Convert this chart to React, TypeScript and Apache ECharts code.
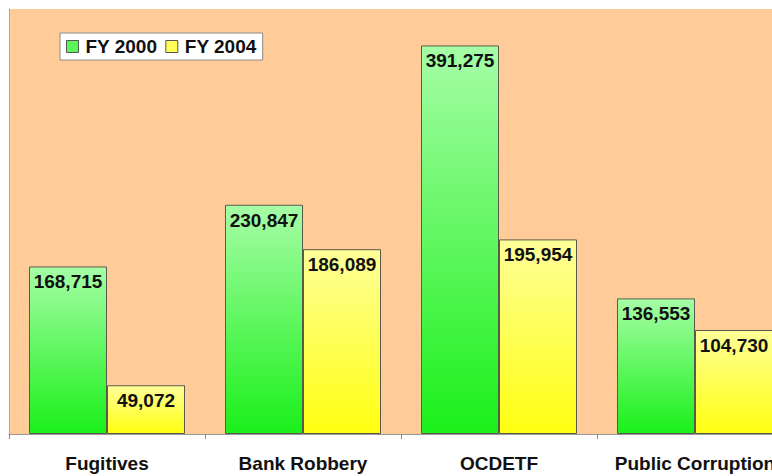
import React, { useEffect, useRef } from "react";
import * as echarts from "echarts";

const categories = ["Fugitives", "Bank Robbery", "OCDETF", "Public Corruption"];
const fy2000 = [168715, 230847, 391275, 136553];
const fy2004 = [49072, 186089, 195954, 104730];
const seriesNames = ["FY 2000", "FY 2004"];

const FONT = "'Liberation Sans', Arial, sans-serif";

export default function App() {
  const ref = useRef<HTMLDivElement>(null);
  useEffect(() => {
    if (!ref.current) return;
    const chart = echarts.init(ref.current, null, { renderer: "svg" });
    const greenGrad = new echarts.graphic.LinearGradient(0, 0, 0, 1, [
      { offset: 0, color: "#A6FDA6" },
      { offset: 1, color: "#1AF01A" },
    ]);
    const yellowGrad = new echarts.graphic.LinearGradient(0, 0, 0, 1, [
      { offset: 0, color: "#FFFF99" },
      { offset: 1, color: "#FFFF10" },
    ]);
    const label = {
      show: true,
      position: "insideTop" as const,
      distance: 6,
      color: "#111",
      fontWeight: "bold" as const,
      fontSize: 19,
      fontFamily: FONT,
      formatter: (p: any) => Number(p.value).toLocaleString("en-US"),
    };
    chart.setOption({
      animation: false,
      backgroundColor: "#ffffff",
      legend: {
        left: 60,
        top: 33,
        padding: [4, 6, 4, 6],
        itemWidth: 12,
        itemHeight: 12,
        itemGap: 8,
        backgroundColor: "#ffffff",
        borderColor: "#8a8a8a",
        borderWidth: 1,
        icon: "rect",
        textStyle: { fontFamily: FONT, fontWeight: "bold", fontSize: 19, color: "#111", padding: [0, 0, 0, 2] },
        data: [
          { name: seriesNames[0], itemStyle: { color: "#5CF55C", borderColor: "#555", borderWidth: 1 } },
          { name: seriesNames[1], itemStyle: { color: "#FFFF55", borderColor: "#555", borderWidth: 1 } },
        ],
      },
      grid: {
        left: 9,
        right: 0,
        top: 9,
        bottom: 42,
        show: true,
        backgroundColor: "#FFCB99",
        borderWidth: 0,
        containLabel: false,
      },
      xAxis: {
        type: "category",
        data: categories,
        axisLine: { show: true, lineStyle: { color: "#999", width: 1 } },
        axisTick: { show: true, length: 5, lineStyle: { color: "#888" }, alignWithLabel: false },
        axisLabel: {
          margin: 20,
          fontFamily: FONT,
          fontWeight: "bold",
          fontSize: 19,
          color: "#111",
          interval: 0,
        },
      },
      yAxis: {
        type: "value",
        min: 0,
        max: 428000,
        axisLine: { show: true, lineStyle: { color: "#a9a9a9", width: 1 } },
        axisTick: { show: false },
        axisLabel: { show: false },
        splitLine: { show: false },
      },
      series: [
        {
          name: seriesNames[0],
          type: "bar",
          data: fy2000,
          barWidth: 78,
          barGap: "0%",
          itemStyle: { color: greenGrad, borderColor: "#5a5a4a", borderWidth: 1 },
          label,
        },
        {
          name: seriesNames[1],
          type: "bar",
          data: fy2004,
          barWidth: 78,
          barGap: "0%",
          itemStyle: { color: yellowGrad, borderColor: "#5a5a4a", borderWidth: 1 },
          label,
        },
      ],
    });
    return () => chart.dispose();
  }, []);
  return (
    <div style={{ position: "fixed", left: 0, top: 0, width: 772, height: 476, overflow: "hidden" }}>
      <div ref={ref} style={{ width: 793, height: 476 }} />
    </div>
  );
}
